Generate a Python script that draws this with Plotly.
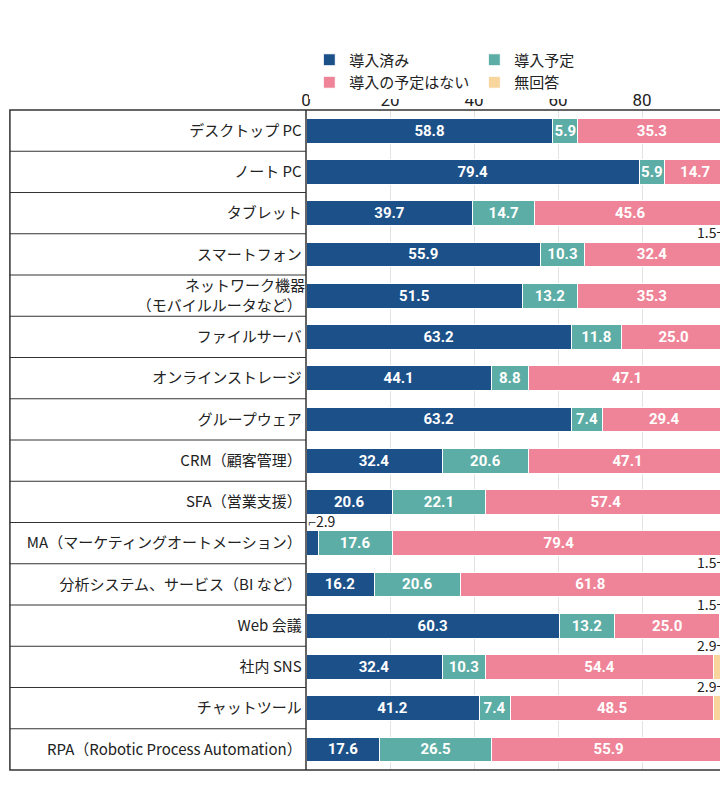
import plotly.graph_objects as go

categorias = ["デスクトップ PC", "ノート PC", "タブレット", "スマートフォン",
              "ネットワーク機器<br>（モバイルルータなど）", "ファイルサーバ",
              "オンラインストレージ", "グループウェア", "CRM（顧客管理）",
              "SFA（営業支援）", "MA（マーケティングオートメーション）",
              "分析システム、サービス（BI など）", "Web 会議", "社内 SNS",
              "チャットツール", "RPA（Robotic Process Automation）"]
series = ["導入済み", "導入予定", "導入の予定はない", "無回答"]
導入済み = [58.8, 79.4, 39.7, 55.9, 51.5, 63.2, 44.1, 63.2, 32.4, 20.6, 2.9, 16.2, 60.3, 32.4, 41.2, 17.6]
導入予定 = [5.9, 5.9, 14.7, 10.3, 13.2, 11.8, 8.8, 7.4, 20.6, 22.1, 17.6, 20.6, 13.2, 10.3, 7.4, 26.5]
予定なし = [35.3, 14.7, 45.6, 32.4, 35.3, 25.0, 47.1, 29.4, 47.1, 57.4, 79.4, 61.8, 25.0, 54.4, 48.5, 55.9]
無回答 = [0, 0, 0, 1.5, 0, 0, 0, 0, 0, 0, 0, 1.5, 1.5, 2.9, 2.9, 0]
colors = ["#1c5089", "#5cada5", "#ef8498", "#f8d59c"]

fig = go.Figure()
for name, vals, c in zip(series, [導入済み, 導入予定, 予定なし, 無回答], colors):
    fig.add_trace(go.Bar(
        y=categorias, x=vals, name=name, orientation="h",
        marker=dict(color=c, line=dict(color="white", width=1)),
        text=[f"<b>{v:.1f}</b>" if v >= 5 else "" for v in vals],
        textposition="inside", insidetextanchor="middle", textangle=0,
        constraintext="none",
        textfont=dict(color="white", size=15, family="Liberation Sans Narrow, Roboto, Noto Sans CJK JP"),
        hoverinfo="skip",
    ))

# 小さい値のラベル
for i, cat in enumerate(categorias):
    if 無回答[i] > 0:
        fig.add_annotation(x=100, y=cat, text=f"{無回答[i]:.1f}¬", showarrow=False,
                           xanchor="right", yanchor="bottom", yshift=10,
                           font=dict(size=14, color="#222"))
    if 導入済み[i] < 5:
        fig.add_annotation(x=0, y=cat, text=f"⌐{導入済み[i]:.1f}", showarrow=False,
                           xanchor="left", yanchor="bottom", yshift=10,
                           font=dict(size=14, color="#222"))

# 表の罫線
shapes = [dict(type="rect", xref="paper", yref="paper", x0=-0.705, x1=1.0, y0=0, y1=1,
               line=dict(color="#333", width=1.5)),
          dict(type="line", xref="paper", yref="paper", x0=0, x1=0, y0=0, y1=1,
               line=dict(color="#333", width=1.5))]
for i in range(len(categorias) - 1):
    shapes.append(dict(type="line", xref="paper", yref="y", x0=-0.705, x1=0,
                       y0=i + 0.5, y1=i + 0.5, line=dict(color="#333", width=1)))

fig.update_layout(
    barmode="stack", bargap=0.4,
    width=728, height=789,
    margin=dict(l=298, r=10, t=102, b=27),
    plot_bgcolor="white", paper_bgcolor="white",
    font=dict(family="Noto Sans CJK JP", size=15, color="#222"),
    legend=dict(orientation="h", xref="container", x=0.6, xanchor="center",
                yref="container", y=0.955, yanchor="top", font=dict(size=15),
                traceorder="normal", entrywidth=0, itemwidth=30),
    xaxis=dict(side="top", range=[0, 100], dtick=20, showgrid=True, gridcolor="#e3e3e3",
               tickfont=dict(size=17, family="Liberation Sans Narrow, Roboto"),
               zeroline=False, fixedrange=True, automargin=False),
    yaxis=dict(autorange="reversed", ticksuffix=" ", tickfont=dict(size=15),
               showgrid=False, automargin=False),
    shapes=shapes,
)

fig.write_html("out.html")
